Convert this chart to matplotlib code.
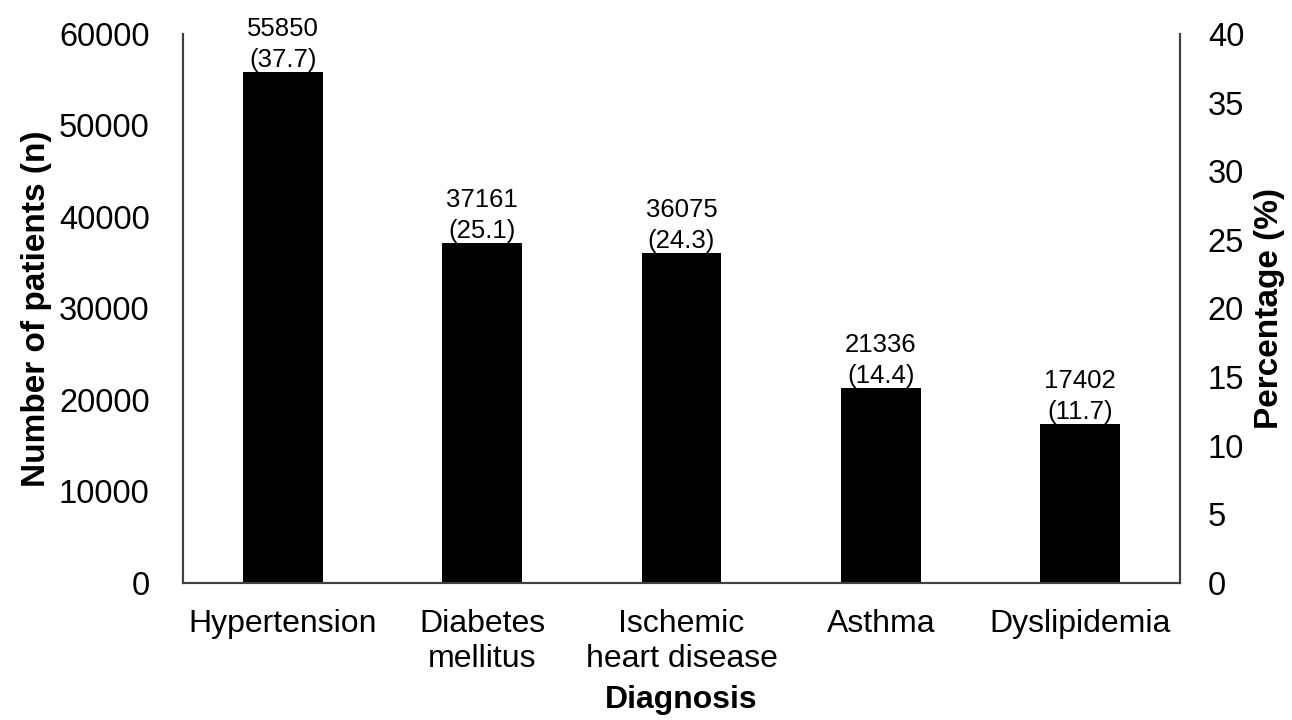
import matplotlib.pyplot as plt
import numpy as np

plt.rcParams['font.family'] = ['Liberation Sans', 'DejaVu Sans']

categories = ["Hypertension", "Diabetes\nmellitus", "Ischemic\nheart disease", "Asthma", "Dyslipidemia"]
patients = [55850, 37161, 36075, 21336, 17402]
percents = [37.7, 25.1, 24.3, 14.4, 11.7]

fig = plt.figure(figsize=(12.92, 7.2), dpi=100)
ax = fig.add_axes([0.1416, 0.1903, 0.7717, 0.7625])
x = np.arange(len(categories))
ax.bar(x, patients, width=0.40, color='black')

ax.set_xlim(-0.5, len(categories) - 0.5)
ax.set_ylim(0, 60000)
ax.set_yticks(np.arange(0, 60001, 10000))
ax.set_xticks(x)
ax.set_xticklabels(categories)
ax.tick_params(axis='both', length=0)
ax.tick_params(axis='x', pad=19, labelsize=23)
ax.tick_params(axis='y', pad=24, labelsize=23.5)

# value and percentage above each bar
for xi, n, p in zip(x, patients, percents):
    ax.annotate(f"{n}\n({p})", (xi, n), xytext=(0, 0), textcoords='offset points',
                ha='center', va='bottom', fontsize=18.5, linespacing=1.35)

ax.set_ylabel("Number of patients (n)", fontsize=24, fontweight='bold', labelpad=5)
ax.set_xlabel("Diagnosis", fontsize=23, fontweight='bold', labelpad=8)

ax2 = ax.twinx()
ax2.set_ylim(0, 40)
ax2.set_yticks(np.arange(0, 41, 5))
ax2.tick_params(axis='y', length=0, labelsize=23.5, pad=20)
ax2.set_ylabel("Percentage (%)", fontsize=24, fontweight='bold', labelpad=7)

for a in (ax, ax2):
    a.spines['top'].set_visible(False)
    for s in ('left', 'right', 'bottom'):
        a.spines[s].set_color('#404040')
        a.spines[s].set_linewidth(1.5)

fig.savefig("out.png", dpi=100)
